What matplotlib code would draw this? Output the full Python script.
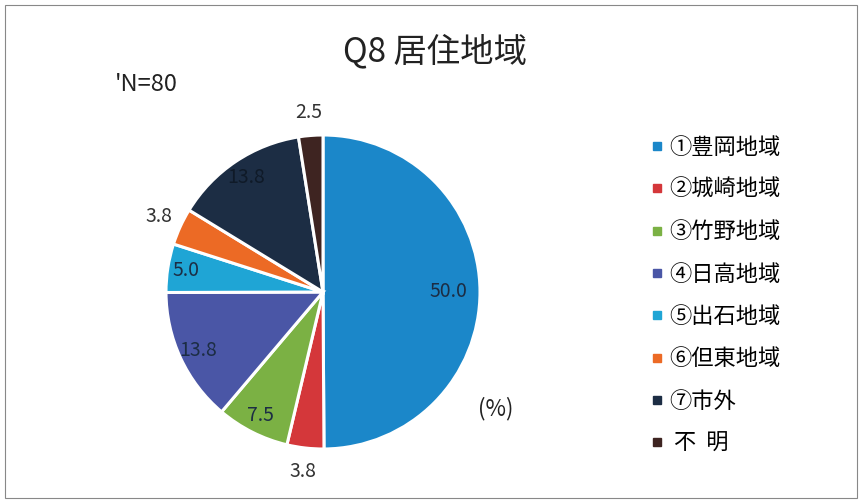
import matplotlib.pyplot as plt
from matplotlib.lines import Line2D
from matplotlib.patches import Rectangle
import numpy as np

plt.rcParams['font.family'] = ['Noto Sans CJK JP', 'DejaVu Sans']

# data
areas = ['①豊岡地域', '②城崎地域', '③竹野地域', '④日高地域',
         '⑤出石地域', '⑥但東地域', '⑦市外', ' 不  明']
shares = [50.0, 3.8, 7.5, 13.8, 5.0, 3.8, 13.8, 2.5]
colors = ['#1b87c9', '#d4373a', '#7bb144', '#4a56a6',
          '#1fa5d5', '#ec6a25', '#1c2d44', '#3e2421']
label_colors = ['#1c2d44', '#333333', '#1c2d44', '#1c2d44',
                '#1c2d44', '#333333', '#0f1a28', '#333333']

fig = plt.figure(figsize=(8.62, 5.01), dpi=100)

# pie axes: centre ~ (323, 292) px, radius ~157 px
ax = fig.add_axes([(323 - 157) / 862, (209 - 157) / 501, 314 / 862, 314 / 501])
wedges, _ = ax.pie(shares, colors=colors, startangle=90, counterclock=False,
                   wedgeprops=dict(edgecolor='white', linewidth=2.2))
ax.set_xlim(-1, 1)
ax.set_ylim(-1, 1)
ax.set_aspect('equal')

for w, v, c in zip(wedges, shares, label_colors):
    ang = np.deg2rad((w.theta1 + w.theta2) / 2)
    if v < 5:
        r = 1.15
        col = '#333333'
    elif v > 40:
        r = 0.8
        col = c
    else:
        r = 0.88
        col = c
    ax.text(r * np.cos(ang), r * np.sin(ang), f'{v:.1f}', ha='center',
            va='center', fontsize=14, color=col, clip_on=False)

fig.text(0.505, 0.897, 'Q8 居住地域', ha='center', va='center', fontsize=24,
         color='#222222')
fig.text(0.133, 0.832, "'N=80", ha='left', va='center', fontsize=17,
         color='#222222')
fig.text(0.554, 0.185, '(%)', ha='left', va='center', fontsize=16,
         color='#222222')

handles = [Line2D([], [], marker='s', linestyle='none', markersize=6,
                  markerfacecolor=c, markeredgecolor=c) for c in colors]
fig.legend(handles, areas, loc='upper left', bbox_to_anchor=(0.752, 0.729),
           frameon=False, fontsize=16, handletextpad=0.15, labelspacing=0.87,
           handlelength=0.8, borderaxespad=0, borderpad=0)

fig.patches.append(Rectangle((0.006, 0.005), 0.988, 0.985, transform=fig.transFigure,
                             fill=False, edgecolor='#888888', linewidth=0.8))

fig.savefig('out.png', dpi=100)
